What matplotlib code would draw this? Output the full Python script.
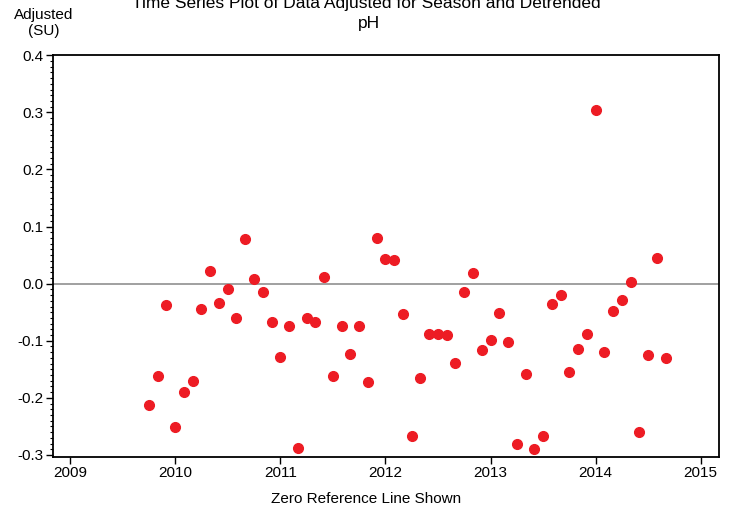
import numpy as np
import pandas as pd
import matplotlib
matplotlib.use('Agg')
import matplotlib.pyplot as plt
from matplotlib.ticker import MultipleLocator

plt.rcParams['font.family'] = ['Liberation Sans', 'DejaVu Sans']

# monthly samples, Oct 2009 .. Sep 2014
dates = pd.date_range('2009-10-01', periods=60, freq='MS')
adjusted = [
    -0.212, -0.162, -0.038, -0.251, -0.189, -0.171, -0.044, 0.023, -0.033, -0.010,
    -0.061, 0.078, 0.009, -0.015, -0.068, -0.128, -0.075, -0.288, -0.060, -0.067,
    0.012, -0.162, -0.075, -0.123, -0.074, -0.172, 0.080, 0.044, 0.042, -0.053,
    -0.266, -0.165, -0.088, -0.089, -0.090, -0.139, -0.015, 0.018, -0.117, -0.099,
    -0.051, -0.102, -0.280, -0.159, -0.289, -0.266, -0.036, -0.020, -0.155, -0.114,
    -0.088, 0.305, -0.120, -0.048, -0.029, 0.003, -0.259, -0.125, 0.045, -0.131,
]
year_ticks = [2009, 2010, 2011, 2012, 2013, 2014, 2015]

# decimal years
x = dates.year + (dates.month - 1) / 12.0

H = 509.
fig = plt.figure(figsize=(7.33, 5.09), dpi=100)
ax = fig.add_axes([0.0719, 0.1028, 0.9086, 0.7886])

ax.axhline(0.0, color='#999999', lw=1.3, zorder=1)
ax.plot(x, adjusted, 'o', color='#ED1C24', ms=7, mec='#ED1C24', zorder=3)

ax.set_xlim(2008.835, 2015.171)
ax.set_ylim(-0.303, 0.40)
ax.set_xticks(year_ticks)
ax.set_xticklabels([str(y) for y in year_ticks])
ax.yaxis.set_major_locator(MultipleLocator(0.1))
ax.yaxis.set_minor_locator(MultipleLocator(0.01))
ax.yaxis.set_major_formatter(plt.FuncFormatter(lambda v, p: '%.1f' % v))

ax.tick_params(axis='both', which='major', direction='out', length=5, width=1,
               labelsize=11, pad=1.5)
ax.tick_params(axis='y', which='minor', direction='out', length=2.5, width=0.8)
for sp in ax.spines.values():
    sp.set_linewidth(1.3)

# title runs off the top edge as in the original
fig.text(0.5, 1 - 8 / H, 'Time Series Plot of Data Adjusted for Season and Detrended',
         ha='center', va='baseline', fontsize=12.5)
fig.text(0.503, 1 - 28 / H, 'pH', ha='center', va='baseline', fontsize=12.5)
fig.text(0.0596, 1 - 18.5 / H, 'Adjusted', ha='center', va='baseline', fontsize=11)
fig.text(0.0596, 1 - 34.5 / H, '(SU)', ha='center', va='baseline', fontsize=11)
fig.text(0.5, 1 - 503 / H, 'Zero Reference Line Shown', ha='center', va='baseline',
         fontsize=11)

fig.savefig('out.png', dpi=100)
